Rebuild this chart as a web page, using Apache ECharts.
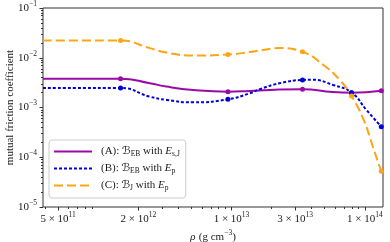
<!DOCTYPE html>
<html>
<head>
<meta charset="utf-8">
<script src="https://cdn.jsdelivr.net/npm/echarts@6/dist/echarts.min.js"></script>
<style>html,body{margin:0;padding:0;background:#fff}#c{width:390px;height:242px}</style>
</head>
<body>
<div id="c"></div>
<script>
// ---- data ----
const rhoA = [3.85e11, 1.47e12, 2.44e12, 3.25e12, 5.15e12, 9.4e12, 1.37e13, 1.94e13, 3.41e13, 5.75e13, 7.95e13, 1.33e14];
const valA = [3.8e-3, 3.8e-3, 3.08e-3, 2.63e-3, 2.25e-3, 2.08e-3, 2.15e-3, 2.25e-3, 2.33e-3, 2.05e-3, 1.99e-3, 2.18e-3];
const rhoB = [3.85e11, 1.47e12, 2.44e12, 3.25e12, 5.15e12, 9.4e12, 1.37e13, 1.63e13, 2.3e13, 3.41e13, 3.98e13, 5.78e13, 7.95e13, 1.03e14, 1.33e14];
const valB = [2.47e-3, 2.47e-3, 1.65e-3, 1.42e-3, 1.27e-3, 1.46e-3, 1.93e-3, 2.33e-3, 3.08e-3, 3.58e-3, 3.62e-3, 2.84e-3, 1.99e-3, 8.9e-4, 4.1e-4];
const rhoC = [3.85e11, 1.47e12, 2.44e12, 3.25e12, 5.15e12, 9.4e12, 1.37e13, 1.63e13, 2.3e13, 3.41e13, 4.87e13, 6.49e13, 7.95e13, 9.7e13, 1.09e14, 1.15e14, 1.33e14];
const valC = [0.0222, 0.0222, 0.0156, 0.0127, 0.01107, 0.01161, 0.01298, 0.01397, 0.01563, 0.01315, 0.00719, 0.00358, 0.0017, 6.05e-4, 2.58e-4, 1.62e-4, 5.25e-5];
const markerRho = [1.47e12, 9.4e12, 3.41e13, 7.95e13, 1.33e14];
const seriesNames = ['A', 'B', 'C'];
const legendLabels = {
  A: '{t|(A): }{c|ℬ}{sub|EB}{t| with }{i|E}{sub|s,J}',
  B: '{t|(B): }{c|ℬ}{sub|EB}{t| with }{i|E}{sub|p}',
  C: '{t|(C): }{c|ℬ}{sub|J}{t| with }{i|E}{sub|p}'
};
const xTicks = [5e11, 2e12, 1e13, 3e13, 1e14];
const xMinorTicks = [4e11, 6e11, 7e11, 8e11, 9e11, 3e12, 4e12, 5e12, 6e12, 7e12, 8e12, 9e12, 2e13, 4e13, 5e13, 6e13, 7e13, 8e13, 9e13];
const yTicks = [1e-5, 1e-4, 1e-3, 1e-2, 1e-1];
const yMinorTicks = [];
[-5, -4, -3, -2].forEach(e => { for (let m = 2; m <= 9; m++) yMinorTicks.push(m * Math.pow(10, e)); });
const xRange = [3.85e11, 1.37e14];
const yRange = [1e-5, 1e-1];

const FONT = "'Liberation Serif', 'DejaVu Serif', serif";
const TXT = '#1a1a1a';
const lg = Math.log10;

const supRich = {
  n: { fontFamily: FONT, fontSize: 11, color: TXT },
  s: { fontFamily: FONT, fontSize: 7.5, color: TXT, padding: [0, 0, 8, 0] }
};

function xFmt(v) {
  const e = Math.floor(v + 1e-6);
  const m = Math.round(Math.pow(10, v - e));
  return '{n|' + m + ' × 10}{s|' + e + '}';
}
function yFmt(v) {
  const e = Math.round(v);
  return '{n|10}{s|−' + (-e) + '}';
}

const chart = echarts.init(document.getElementById('c'), null, { renderer: 'canvas' });

const colors = { A: '#9a0aa6', B: '#0000d8', C: '#ffa514' };
const dashes = { A: 'solid', B: [3, 2], C: [9, 4] };
const rhos = { A: rhoA, B: rhoB, C: rhoC };
const vals = { A: valA, B: valB, C: valC };

const series = seriesNames.map(k => ({
  name: k,
  type: 'line',
  xAxisIndex: 0,
  yAxisIndex: 0,
  data: rhos[k].map((r, i) => [r, vals[k][i]]),
  smooth: true,
  symbol: 'circle',
  showSymbol: true,
  showAllSymbol: true,
  symbolSize: v => markerRho.indexOf(v[0]) >= 0 ? 5 : 0,
  itemStyle: { color: colors[k] },
  lineStyle: { color: colors[k], width: 2, type: dashes[k] },
  emphasis: { disabled: true }
}));

chart.setOption({
  animation: false,
  grid: { left: 43, right: 7, top: 8, bottom: 35, show: true, borderColor: '#333', borderWidth: 1, backgroundColor: 'transparent', containLabel: false, outerBoundsMode: 'none' },
  legend: {
    data: seriesNames,
    orient: 'vertical',
    left: 49, top: 140,
    padding: [6, 6, 6, 4],
    itemWidth: 38, itemHeight: 10, itemGap: 5,
    backgroundColor: 'rgba(255,255,255,0.8)',
    borderColor: '#cccccc', borderWidth: 1, borderRadius: 3,
    itemStyle: { opacity: 0 },
    formatter: n => legendLabels[n],
    textStyle: {
      padding: [0, 0, 0, 4],
      rich: {
        t: { fontFamily: FONT, fontSize: 11, color: TXT },
        i: { fontFamily: FONT, fontSize: 11, fontStyle: 'italic', color: TXT },
        c: { fontFamily: "'DejaVu Serif', 'DejaVu Sans', serif", fontSize: 11, color: TXT },
        sub: { fontFamily: FONT, fontSize: 7.5, color: TXT, padding: [5, 0, 0, 0] }
      }
    }
  },
  xAxis: [
    { type: 'log', min: xRange[0], max: xRange[1], show: false, gridIndex: 0 },
    {
      type: 'value', min: lg(xRange[0]), max: lg(xRange[1]), position: 'bottom', gridIndex: 0,
      axisLine: { show: false }, splitLine: { show: false },
      axisTick: { show: true, length: 3.5, lineStyle: { color: '#333' }, customValues: xTicks.map(lg) },
      axisLabel: { customValues: xTicks.map(lg), formatter: xFmt, rich: supRich, margin: 4 },
      name: '{i|ρ} {t|(g cm}{s|−3}{t|)}', nameLocation: 'middle', nameGap: 16,
      nameTextStyle: { rich: {
        i: { fontFamily: FONT, fontSize: 11, fontStyle: 'italic', color: TXT },
        t: { fontFamily: FONT, fontSize: 11, color: TXT },
        s: { fontFamily: FONT, fontSize: 7.5, color: TXT, padding: [0, 0, 8, 0] }
      } }
    },
    {
      type: 'value', min: lg(xRange[0]), max: lg(xRange[1]), position: 'bottom', gridIndex: 0,
      axisLine: { show: false }, splitLine: { show: false },
      axisTick: { show: true, length: 2, lineStyle: { color: '#333' }, customValues: xMinorTicks.map(lg) },
      axisLabel: { show: false }
    }
  ],
  yAxis: [
    { type: 'log', min: yRange[0], max: yRange[1], show: false, gridIndex: 0 },
    {
      type: 'value', min: lg(yRange[0]), max: lg(yRange[1]), position: 'left', gridIndex: 0,
      axisLine: { show: false }, splitLine: { show: false },
      axisTick: { show: true, length: 3.5, lineStyle: { color: '#333' }, customValues: yTicks.map(lg) },
      axisLabel: { customValues: yTicks.map(lg), formatter: yFmt, rich: supRich, margin: 6 },
      name: 'mutual friction coefficient', nameLocation: 'middle', nameGap: 27, nameMoveOverlap: false,
      nameTextStyle: { fontFamily: FONT, fontSize: 11, color: TXT }
    },
    {
      type: 'value', min: lg(yRange[0]), max: lg(yRange[1]), position: 'left', gridIndex: 0,
      axisLine: { show: false }, splitLine: { show: false },
      axisTick: { show: true, length: 2, lineStyle: { color: '#333' }, customValues: yMinorTicks.map(lg) },
      axisLabel: { show: false }
    }
  ],
  series: series
});
</script>
</body>
</html>
